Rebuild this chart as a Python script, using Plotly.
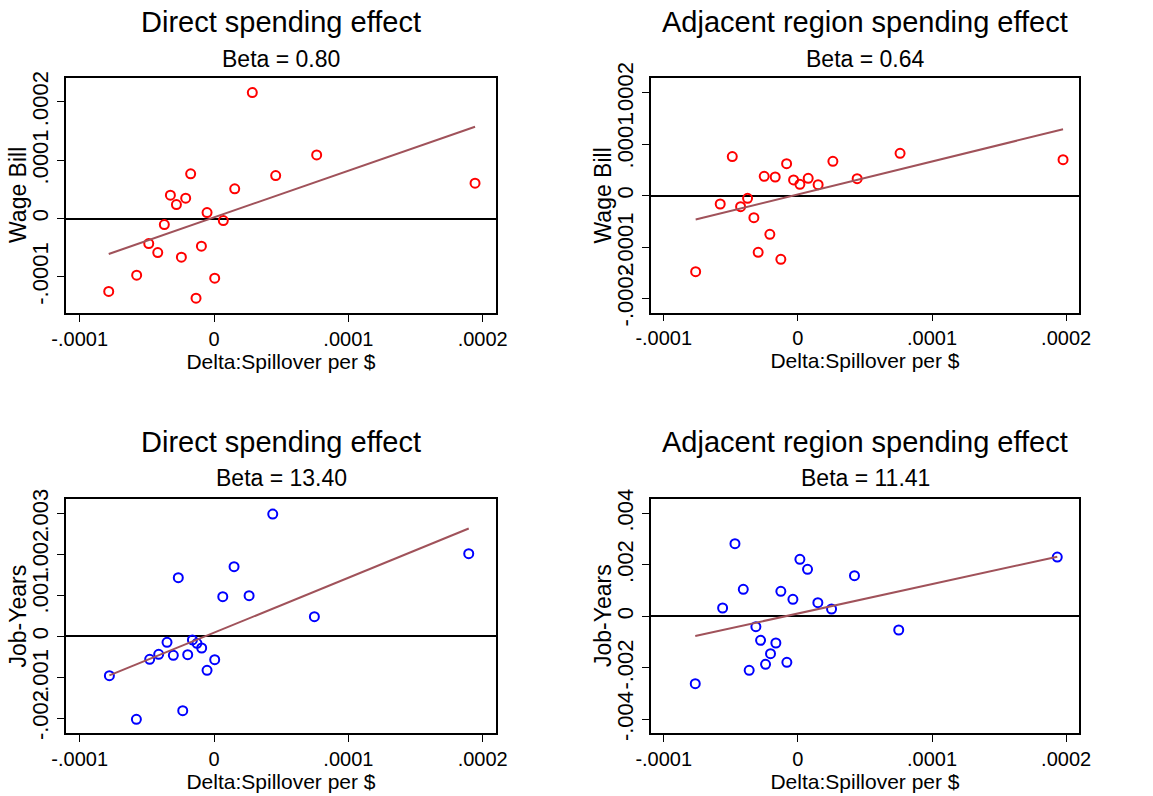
import plotly.graph_objects as go

# ---- data ----
# Panel 1: Direct spending effect, Wage Bill
x_direct_wage = [-0.784e-4, -0.576e-4, -0.486e-4, -0.419e-4, -0.370e-4, -0.325e-4, -0.280e-4,
                 -0.243e-4, -0.211e-4, -0.174e-4, -0.134e-4, -0.094e-4, -0.052e-4, 0.005e-4,
                 0.069e-4, 0.154e-4, 0.285e-4, 0.459e-4, 0.764e-4, 1.943e-4]
y_direct_wage = [-1.251e-4, -0.971e-4, -0.429e-4, -0.583e-4, -0.103e-4, 0.400e-4, 0.240e-4,
                 -0.663e-4, 0.349e-4, 0.766e-4, -1.366e-4, -0.474e-4, 0.103e-4, -1.023e-4,
                 -0.034e-4, 0.509e-4, 2.160e-4, 0.737e-4, 1.091e-4, 0.606e-4]
# Panel 2: Adjacent region spending effect, Wage Bill
x_adj_wage = [-0.762e-4, -0.579e-4, -0.489e-4, -0.427e-4, -0.375e-4, -0.328e-4, -0.296e-4,
              -0.251e-4, -0.209e-4, -0.169e-4, -0.127e-4, -0.084e-4, -0.032e-4, 0.015e-4,
              0.077e-4, 0.151e-4, 0.261e-4, 0.442e-4, 0.762e-4, 1.977e-4]
y_adj_wage = [-1.478e-4, -0.162e-4, 0.759e-4, -0.214e-4, -0.052e-4, -0.428e-4, -1.102e-4,
              0.376e-4, -0.752e-4, 0.363e-4, -1.238e-4, 0.622e-4, 0.305e-4, 0.220e-4,
              0.337e-4, 0.214e-4, 0.668e-4, 0.331e-4, 0.823e-4, 0.700e-4]
# Panel 3: Direct spending effect, Job-Years
x_direct_jobs = [-0.779e-4, -0.578e-4, -0.479e-4, -0.412e-4, -0.350e-4, -0.303e-4, -0.266e-4,
                 -0.233e-4, -0.196e-4, -0.161e-4, -0.127e-4, -0.092e-4, -0.052e-4, 0.005e-4,
                 0.065e-4, 0.149e-4, 0.261e-4, 0.437e-4, 0.747e-4, 1.896e-4]
y_direct_jobs = [-0.959e-3, -2.024e-3, -0.561e-3, -0.439e-3, -0.146e-3, -0.463e-3, 1.431e-3,
                 -1.813e-3, -0.447e-3, -0.089e-3, -0.171e-3, -0.285e-3, -0.829e-3, -0.569e-3,
                 0.967e-3, 1.699e-3, 0.992e-3, 2.984e-3, 0.480e-3, 2.016e-3]
# Panel 4: Adjacent region spending effect, Job-Years
x_adj_jobs = [-0.765e-4, -0.561e-4, -0.469e-4, -0.407e-4, -0.363e-4, -0.313e-4, -0.278e-4,
              -0.241e-4, -0.204e-4, -0.164e-4, -0.127e-4, -0.082e-4, -0.037e-4, 0.015e-4,
              0.072e-4, 0.149e-4, 0.251e-4, 0.422e-4, 0.752e-4, 1.934e-4]
y_adj_jobs = [-2.615e-3, 0.324e-3, 2.822e-3, 1.049e-3, -2.097e-3, -0.401e-3, -0.932e-3,
              -1.864e-3, -1.450e-3, -1.036e-3, 0.971e-3, -1.786e-3, 0.660e-3, 2.214e-3,
              1.825e-3, 0.531e-3, 0.285e-3, 1.579e-3, -0.531e-3, 2.304e-3]

titles = ["Direct spending effect", "Adjacent region spending effect",
          "Direct spending effect", "Adjacent region spending effect"]
betas = [0.80, 0.64, 13.40, 11.41]
intercepts = [0.02e-4, 0.025e-4, 0.09e-3, 0.11e-3]
y_titles = ["Wage Bill", "Wage Bill", "Job-Years", "Job-Years"]
x_title = "Delta:Spillover per $"

x_ticks = [-0.0001, 0, 0.0001, 0.0002]
x_ticklabels = ["-.0001", "0", ".0001", ".0002"]
y_ticks = [
    [-0.0001, 0, 0.0001, 0.0002],
    [-0.0002, -0.0001, 0, 0.0001, 0.0002],
    [-0.002, -0.001, 0, 0.001, 0.002, 0.003],
    [-0.004, -0.002, 0, 0.002, 0.004],
]
y_ticklabels = [
    ["-.0001", "0", ".0001", ".0002"],
    ["-.0002", "-.0001", "0", ".0001", ".0002"],
    ["-.002", "-.001", "0", ".001", ".002", ".003"],
    ["-.004", "-.002", "0", ".002", ".004"],
]
x_ranges = [[-1.102e-4, 2.099e-4], [-1.095e-4, 2.096e-4], [-1.102e-4, 2.099e-4], [-1.095e-4, 2.096e-4]]
y_ranges = [[-1.62e-4, 2.41e-4], [-2.276e-4, 2.282e-4], [-2.366e-3, 3.358e-3], [-4.544e-3, 4.570e-3]]

xs = [x_direct_wage, x_adj_wage, x_direct_jobs, x_adj_jobs]
ys = [y_direct_wage, y_adj_wage, y_direct_jobs, y_adj_jobs]
marker_colors = ["#ff0000", "#ff0000", "#0000ff", "#0000ff"]

# ---- layout geometry (pixels) ----
W, H = 1153, 796
frames = [  # left, right, top, bottom
    (66, 496, 78, 313),
    (651, 1079, 78.3, 312.7),
    (66, 496, 498.7, 733.3),
    (651, 1079, 498.7, 733.3),
]
title_y = [21.7, 21.7, 441.7, 441.7]
sub_y = [58.7, 58.7, 478.3, 478.3]
ytitle_x = [18.5, 603, 17.5, 603]

FONT = "Liberation Sans, Arial, sans-serif"
fig = go.Figure()
annotations = []
for i in range(4):
    ax = "" if i == 0 else str(i + 1)
    xa, ya = "x" + ax, "y" + ax
    xv, yv = xs[i], ys[i]
    fig.add_trace(go.Scatter(
        x=xv, y=yv, mode="markers", xaxis=xa, yaxis=ya, showlegend=False,
        marker=dict(symbol="circle-open", size=9, color=marker_colors[i], line=dict(width=2)),
    ))
    x0, x1 = min(xv), max(xv)
    fig.add_trace(go.Scatter(
        x=[x0, x1], y=[intercepts[i] + betas[i] * x0, intercepts[i] + betas[i] * x1],
        mode="lines", xaxis=xa, yaxis=ya, showlegend=False,
        line=dict(color="#a0525a", width=2),
    ))
    l, r, t, b = frames[i]
    common = dict(showgrid=False, showline=True, mirror=True, linecolor="black", linewidth=1.5,
                  ticks="outside", ticklen=7, tickwidth=1.2, tickcolor="black", automargin=False)
    fig.layout["xaxis" + ax] = dict(
        domain=[l / W, r / W], anchor=ya, range=x_ranges[i], zeroline=False,
        tickmode="array", tickvals=x_ticks, ticktext=x_ticklabels,
        tickfont=dict(family=FONT, size=20, color="black"),
        title=dict(text=x_title, font=dict(family=FONT, size=21, color="black"), standoff=3),
        **common)
    fig.layout["yaxis" + ax] = dict(
        domain=[1 - b / H, 1 - t / H], anchor=xa, range=y_ranges[i],
        zeroline=True, zerolinecolor="black", zerolinewidth=2,
        tickmode="array", tickvals=y_ticks[i], ticktext=y_ticklabels[i], tickangle=-90,
        tickfont=dict(family=FONT, size=22, color="black"),
        **common)
    cx = (l + r) / 2 / W
    annotations.append(dict(text=titles[i], x=cx, y=1 - title_y[i] / H, xref="paper", yref="paper",
                            showarrow=False, xanchor="center", yanchor="middle",
                            font=dict(family=FONT, size=29, color="black")))
    annotations.append(dict(text="Beta = %.2f" % betas[i], x=cx, y=1 - sub_y[i] / H, xref="paper",
                            yref="paper", showarrow=False, xanchor="center", yanchor="middle",
                            font=dict(family=FONT, size=23, color="black")))
    annotations.append(dict(text=y_titles[i], x=ytitle_x[i] / W, y=1 - (t + b) / 2 / H,
                            xref="paper", yref="paper", showarrow=False, textangle=-90,
                            xanchor="center", yanchor="middle",
                            font=dict(family=FONT, size=23, color="black")))

fig.update_layout(width=W, height=H, margin=dict(l=0, r=0, t=0, b=0),
                  paper_bgcolor="white", plot_bgcolor="white", annotations=annotations,
                  font=dict(family=FONT, color="black"))
fig.write_html("out.html", config={"displayModeBar": False},
               post_script="document.body.style.margin='0';document.body.style.overflow='hidden';")
